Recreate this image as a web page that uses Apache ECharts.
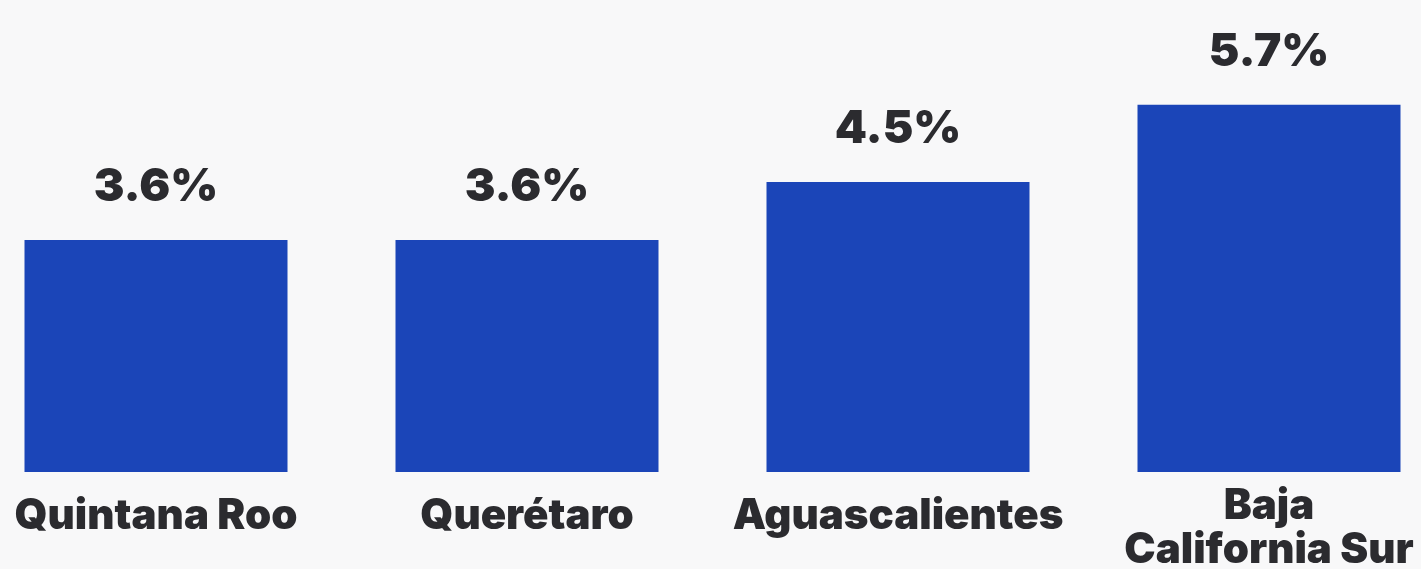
<!DOCTYPE html>
<html>
<head>
<meta charset="utf-8">
<script src="https://cdn.jsdelivr.net/npm/echarts@6/dist/echarts.min.js"></script>
<style>
html,body{margin:0;padding:0;background:#f8f8f9;}
#c{width:1421px;height:569px;}
</style>
</head>
<body>
<div id="c"></div>
<script>
const categories = ['Quintana Roo', 'Querétaro', 'Aguascalientes', 'Baja\nCalifornia Sur'];
const values = [3.6, 3.6, 4.5, 5.7];
const valueLabels = ['3.6%', '3.6%', '4.5%', '5.7%'];

const chart = echarts.init(document.getElementById('c'), null, {renderer: 'canvas'});
const fontFam = 'Inter, "DejaVu Sans", sans-serif';
chart.setOption({
  backgroundColor: '#f8f8f9',
  animation: false,
  grid: {left: 156, right: 152, top: 21, bottom: 97, containLabel: false, outerBoundsMode: 'none'},
  xAxis: {
    type: 'category',
    boundaryGap: false,
    data: categories.map((c, i) => i === 3 ? {value: c, textStyle: {padding: [-10, 0, 0, 0]}} : c),
    axisLine: {show: false},
    axisTick: {show: false},
    axisLabel: {
      interval: 0,
      margin: 22,
      color: '#2b2b2f',
      fontFamily: fontFam,
      fontWeight: 900,
      fontSize: 42,
      lineHeight: 44
    }
  },
  yAxis: {
    type: 'value', min: 0, max: 7,
    show: false,
    splitLine: {show: false}
  },
  series: [{
    type: 'bar',
    data: values,
    barWidth: 263,
    itemStyle: {color: '#1b45b8'},
    label: {
      show: true,
      position: 'top',
      distance: 30,
      formatter: p => valueLabels[p.dataIndex],
      color: '#2b2b2f',
      fontFamily: fontFam,
      fontWeight: 900,
      fontSize: 46
    }
  }]
});
</script>
</body>
</html>
